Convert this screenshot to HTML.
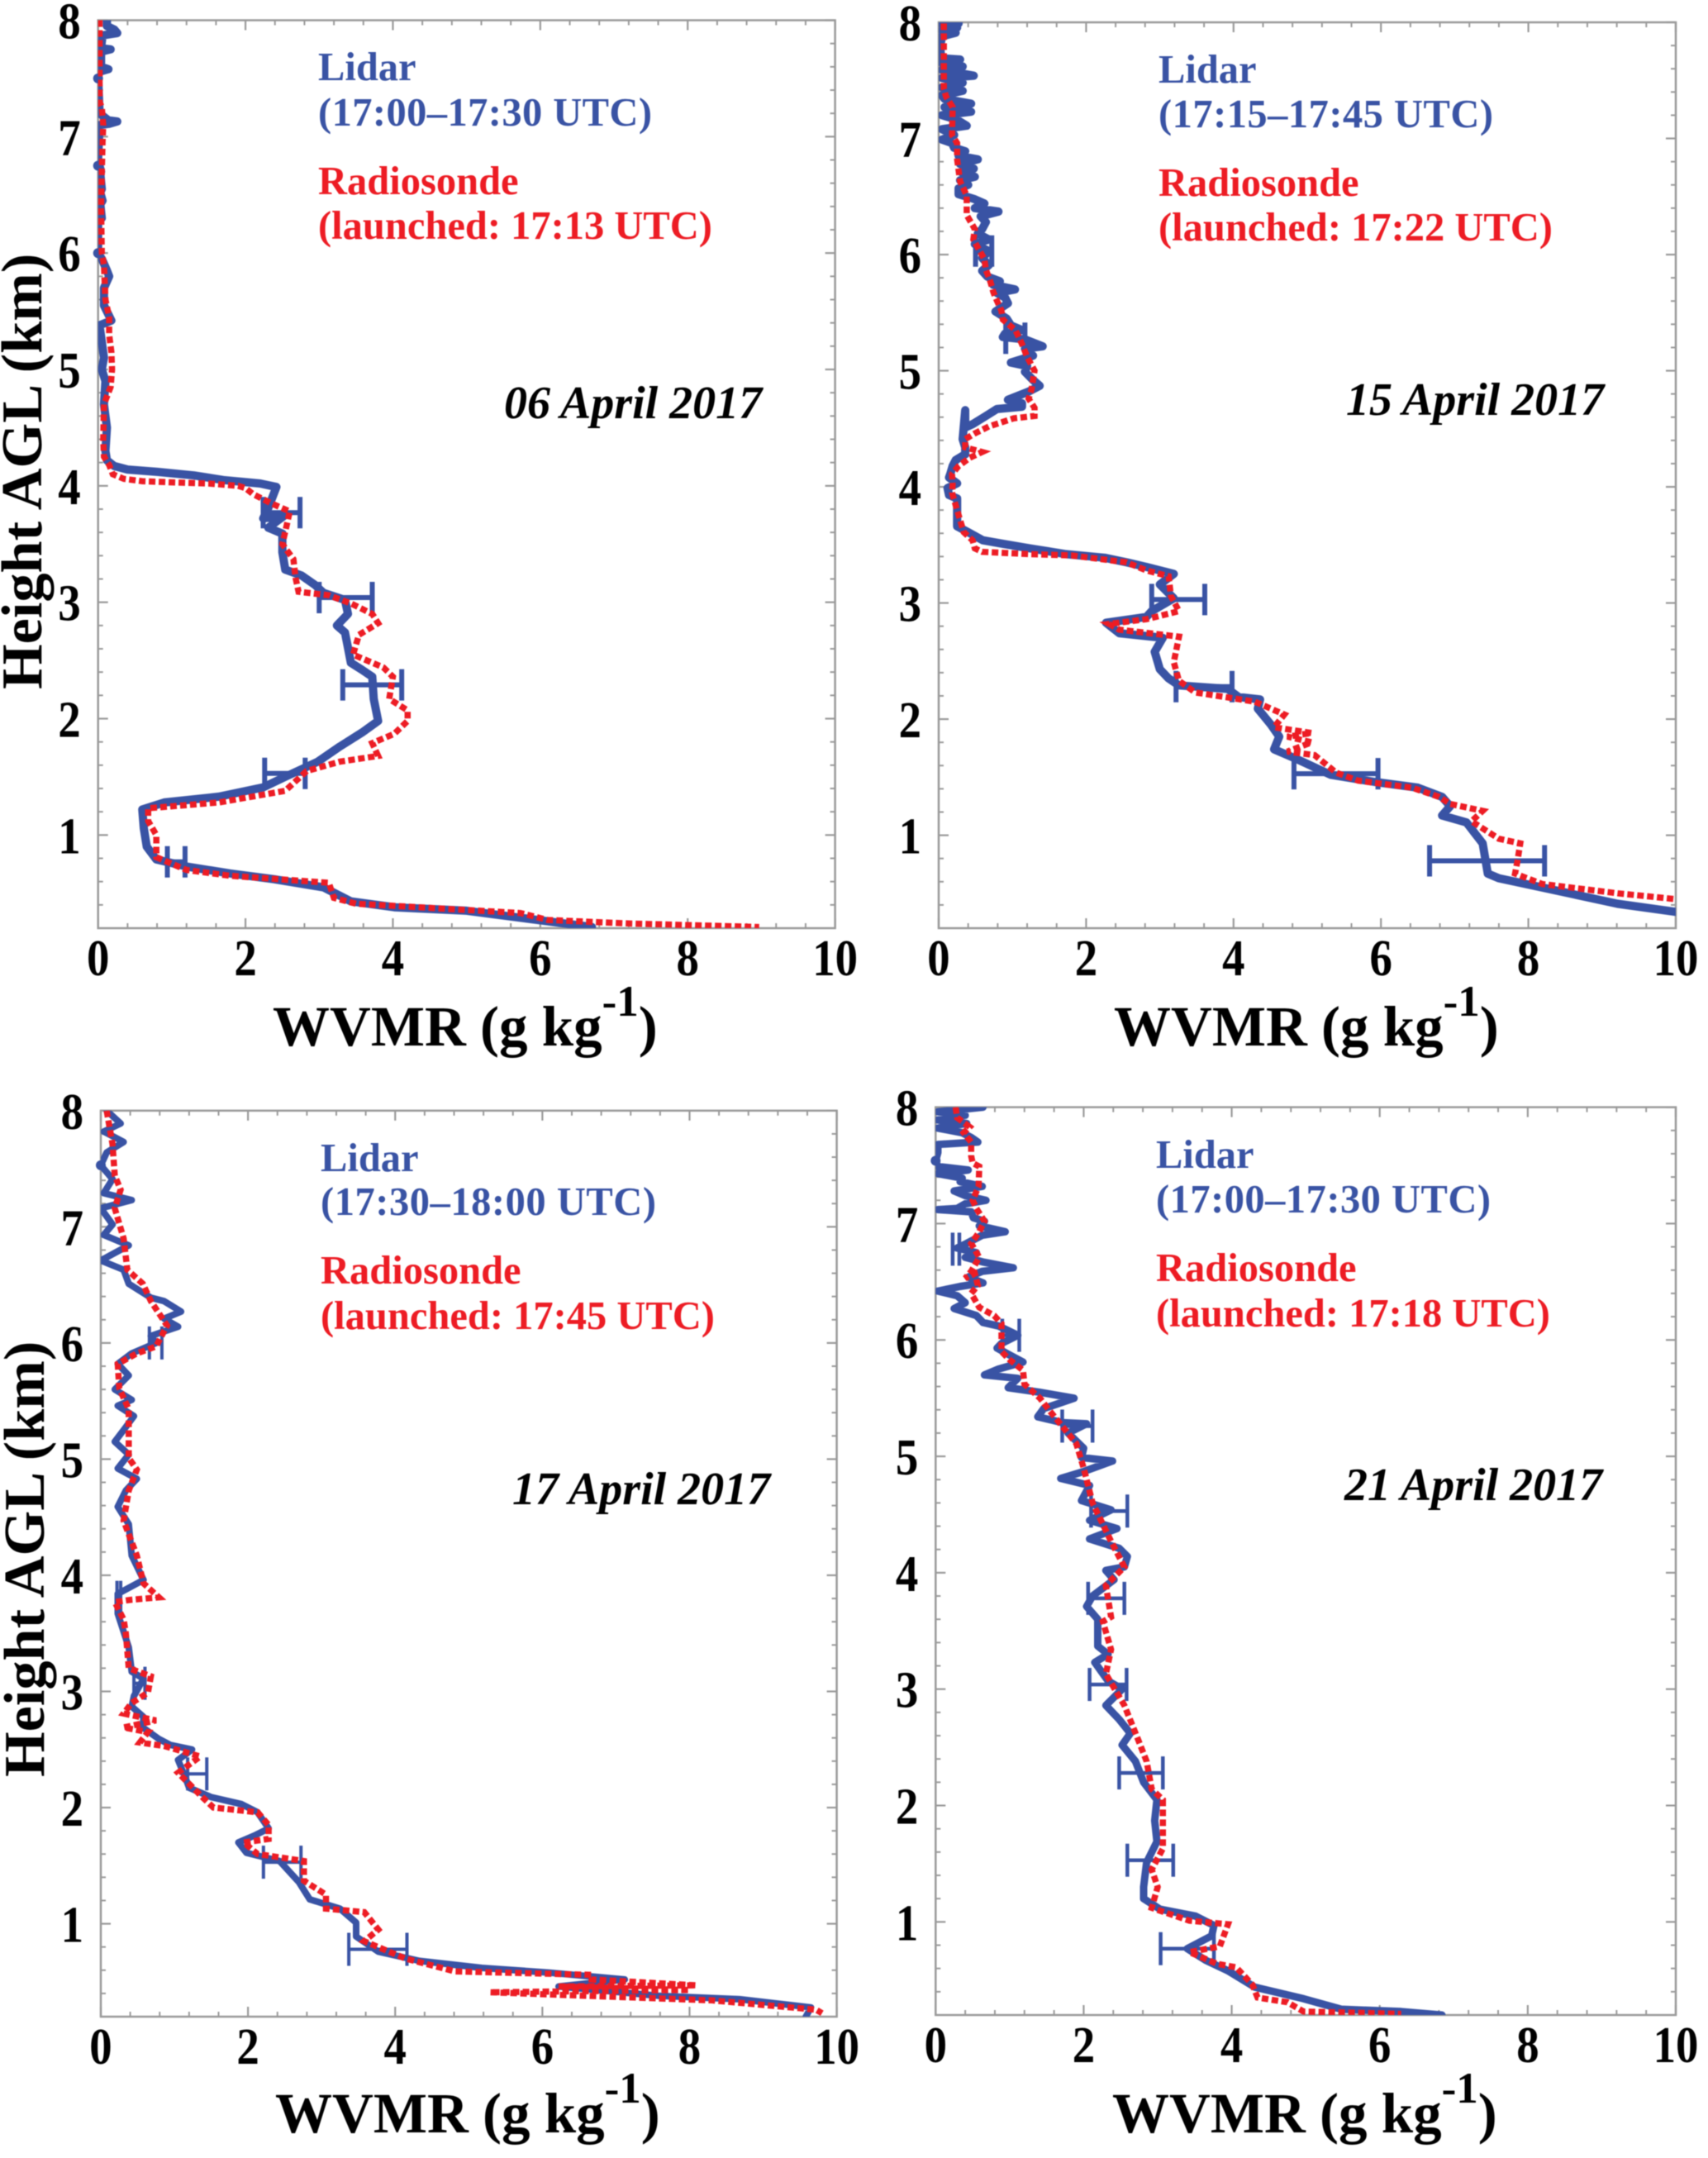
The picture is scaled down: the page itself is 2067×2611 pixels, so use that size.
<!DOCTYPE html>
<html lang="en">
<head>
<meta charset="utf-8">
<title>WVMR profiles: Lidar vs Radiosonde</title>
<style>
html,body{margin:0;padding:0;background:#fff;}
#figure{display:block;width:2067px;height:2611px;filter:blur(0.6px);}
text{font-family:"Liberation Serif",serif;font-weight:bold;}
.lidar-text{fill:#3953a4;font-size:48.5px;}
.sonde-text{fill:#ed1c24;font-size:48.5px;}
.date-text{fill:#000;font-size:56px;font-style:italic;}
.axis-title{fill:#000;font-size:69px;}
.y-title{fill:#000;font-size:70.3px;}
.tick-label{fill:#000;font-size:63px;}
</style>
</head>
<body>
<svg id="figure" xmlns="http://www.w3.org/2000/svg" width="2067" height="2611" viewBox="0 0 2067 2611">
  <rect width="2067" height="2611" fill="#fff"/>

  <g id="panel-apr06"></g>
  <g id="panel-apr15"></g>
  <g id="panel-apr17"></g>
  <g id="panel-apr21"></g>

  <g>
    <text class="lidar-text" x="385" y="97">Lidar</text>
    <text class="lidar-text" x="385" y="152" textLength="404">(17:00–17:30 UTC)</text>
    <text class="sonde-text" x="385" y="235">Radiosonde</text>
    <text class="sonde-text" x="385" y="289">(launched: 17:13 UTC)</text>
    <text class="date-text" x="610" y="506">06 April 2017</text>
    <text class="axis-title" x="330" y="1265">WVMR (g kg<tspan font-size="53" dy="-36">-1</tspan><tspan dy="36">)</tspan></text>
    <text class="y-title" transform="translate(50,834) rotate(-90)" x="0" y="0">Height AGL (km)</text>
  </g>

  <g>
    <text class="lidar-text" x="1402" y="100">Lidar</text>
    <text class="lidar-text" x="1402" y="154" textLength="405">(17:15–17:45 UTC)</text>
    <text class="sonde-text" x="1402" y="237">Radiosonde</text>
    <text class="sonde-text" x="1402" y="291">(launched: 17:22 UTC)</text>
    <text class="date-text" x="1629" y="502">15 April 2017</text>
    <text class="axis-title" x="1348" y="1265">WVMR (g kg<tspan font-size="53" dy="-36">-1</tspan><tspan dy="36">)</tspan></text>
  </g>

  <g>
    <text class="lidar-text" x="388" y="1417">Lidar</text>
    <text class="lidar-text" x="388" y="1470" textLength="406">(17:30–18:00 UTC)</text>
    <text class="sonde-text" x="388" y="1553">Radiosonde</text>
    <text class="sonde-text" x="388" y="1608">(launched: 17:45 UTC)</text>
    <text class="date-text" x="620" y="1820">17 April 2017</text>
    <text class="axis-title" x="333" y="2580">WVMR (g kg<tspan font-size="53" dy="-36">-1</tspan><tspan dy="36">)</tspan></text>
    <text class="y-title" transform="translate(53,2150) rotate(-90)" x="0" y="0">Height AGL (km)</text>
  </g>

  <g>
    <text class="lidar-text" x="1399" y="1413">Lidar</text>
    <text class="lidar-text" x="1399" y="1467" textLength="405">(17:00–17:30 UTC)</text>
    <text class="sonde-text" x="1399" y="1550">Radiosonde</text>
    <text class="sonde-text" x="1399" y="1605">(launched: 17:18 UTC)</text>
    <text class="date-text" x="1627" y="1815">21 April 2017</text>
    <text class="axis-title" x="1346" y="2580">WVMR (g kg<tspan font-size="53" dy="-36">-1</tspan><tspan dy="36">)</tspan></text>
  </g>
</svg>

<script>
// Axis values
const xTickLabels = [0, 2, 4, 6, 8, 10];
const yTickLabels = [1, 2, 3, 4, 5, 6, 7, 8];
const xMinorTicks = [0.4, 0.8, 1.2, 1.6, 2.4, 2.8, 3.2, 3.6, 4.4, 4.8, 5.2, 5.6, 6.4, 6.8, 7.2, 7.6, 8.4, 8.8, 9.2, 9.6];
const yMinorTicks = [0.4, 0.6, 0.8, 1.2, 1.4, 1.6, 1.8, 2.2, 2.4, 2.6, 2.8, 3.2, 3.4, 3.6, 3.8, 4.2, 4.4, 4.6, 4.8, 5.2, 5.4, 5.6, 5.8, 6.2, 6.4, 6.6, 6.8, 7.2, 7.4, 7.6, 7.8];
const xDomain = [0, 10];
const yDomain = [0.2, 8];

// 06 April 2017
const apr06LidarHeights = [8.0,7.95,7.92,7.89,7.87,7.76,7.75,7.73,7.6,7.58,7.56,7.53,7.2,7.14,7.13,7.11,7.1,6.8,6.7,6.68,6.55,6.52,6.45,6.42,6.3,6.27,6.0,5.95,5.85,5.8,5.7,5.55,5.42,5.38,5.1,5.0,4.9,4.7,4.5,4.3,4.22,4.17,4.14,4.12,4.09,4.05,4.02,3.99,3.81,3.72,3.75,3.64,3.59,3.43,3.28,3.23,3.15,3.08,3.02,2.9,2.8,2.74,2.61,2.48,2.42,2.36,2.17,1.98,1.88,1.76,1.63,1.5,1.41,1.33,1.28,1.22,1.06,0.9,0.79,0.73,0.67,0.62,0.55,0.43,0.38,0.35,0.27,0.21];
const apr06LidarWvmr = [0.12,0.12,0.22,0.26,0.06,0.04,0.17,0.04,0.04,0.14,0.03,0,0.02,0.14,0.26,0.15,0.02,0,0.04,0.03,0.05,0.03,0.06,0.03,0.05,0,0,0.05,0.12,0.15,0.08,0.08,0.18,0.02,0.08,0.05,0.10,0.08,0.12,0.10,0.12,0.22,0.4,0.8,1.3,1.7,2.2,2.42,2.31,2.24,2.54,2.31,2.5,2.5,2.54,2.76,2.94,3.06,3.35,3.39,3.24,3.35,3.39,3.43,3.58,3.72,3.74,3.8,3.58,3.28,2.98,2.54,2.24,1.64,0.9,0.6,0.62,0.66,0.79,1.2,1.79,2.39,3.06,3.43,4.02,5,5.96,6.7];
const apr06SondeHeights = [8.0,7.3,7.25,7.1,6.95,6.7,6.4,6.0,5.9,5.6,5.45,5.3,5.15,5.0,4.85,4.7,4.4,4.25,4.18,4.1,4.06,4.04,4.03,4.02,4.0,3.98,3.93,3.85,3.78,3.69,3.5,3.37,3.21,3.09,3.06,2.99,2.9,2.82,2.72,2.55,2.44,2.36,2.17,2.07,1.98,1.87,1.79,1.68,1.63,1.55,1.38,1.28,1.23,1.12,1.0,0.81,0.7,0.65,0.59,0.46,0.41,0.37,0.33,0.27,0.24,0.21];
const apr06SondeWvmr = [0.02,0.02,0.05,0.07,0.06,0.05,0.04,0.05,0.08,0.10,0.15,0.15,0.18,0.19,0.17,0.08,0.07,0.08,0.15,0.2,0.35,0.6,1.0,1.5,1.9,2.0,2.1,2.35,2.6,2.57,2.5,2.65,2.68,2.72,3.13,3.43,3.72,3.8,3.54,3.46,3.87,4.0,3.95,4.2,4.2,4.02,3.72,3.8,3.28,2.83,2.54,1.64,0.68,0.68,0.79,0.79,1.2,1.79,3.13,3.2,3.5,4.62,5.73,6.1,7.22,8.97];
const apr06ErrorHeights = [3.77,3.04,2.29,1.53,0.77];
const apr06ErrorLow = [2.24,3.0,3.32,2.26,0.94];
const apr06ErrorHigh = [2.74,3.72,4.12,2.81,1.18];
const apr06DotHeights = [7.5,6.75,6.0];
const apr06DotWvmr = [0,0,0];

// 15 April 2017
const apr15LidarHeights = [7.99,7.98,7.955,7.93,7.91,7.88,7.81,7.74,7.69,7.68,7.65,7.62,7.59,7.54,7.52,7.48,7.44,7.41,7.37,7.34,7.30,7.27,7.23,7.20,7.16,7.11,7.08,7.03,6.99,6.96,6.92,6.89,6.85,6.82,6.78,6.74,6.71,6.67,6.64,6.60,6.57,6.52,6.48,6.44,6.40,6.37,6.33,6.28,6.22,6.18,6.13,6.09,6.03,5.97,5.91,5.86,5.81,5.77,5.74,5.70,5.67,5.63,5.58,5.51,5.45,5.39,5.35,5.32,5.29,5.27,5.21,5.19,5.13,5.07,5.04,4.99,4.92,4.87,4.82,4.75,4.72,4.69,4.67,4.61,4.54,4.51,4.66,4.41,4.34,4.28,4.23,4.18,4.11,4.08,4.03,3.99,3.93,3.90,3.66,3.61,3.54,3.51,3.47,3.42,3.39,3.35,3.31,3.25,3.16,3.04,2.93,2.88,2.83,2.74,2.7,2.58,2.43,2.35,2.29,2.26,2.19,2.17,2.09,1.95,1.85,1.74,1.65,1.52,1.46,1.41,1.33,1.25,1.17,1.11,0.93,0.67,0.63,0.55,0.41,0.34];
const apr15LidarWvmr = [0.27,0.045,0.25,0.045,0.23,0.045,0.026,0.026,0.045,0.29,0.045,0.325,0.045,0.475,0.045,0.325,0.045,0.325,0.045,0.08,0.44,0.08,0.44,0.045,0.25,0.38,0.045,0.21,0.045,0.18,0.21,0.36,0.27,0.53,0.29,0.475,0.306,0.49,0.29,0.40,0.27,0.27,0.475,0.62,0.49,0.81,0.57,0.64,0.59,0.53,0.68,0.49,0.68,0.59,0.68,0.59,0.66,0.83,0.74,1.035,0.79,0.90,0.94,0.77,0.92,0.98,1.13,0.90,0.87,1.17,1.41,1.17,1.28,0.98,1.2,1.17,1.28,1.37,1.22,0.94,1.13,1.13,0.79,0.64,0.46,0.36,0.36,0.325,0.36,0.36,0.23,0.19,0.157,0.14,0.25,0.12,0.14,0.25,0.25,0.40,0.6,0.87,1.24,1.73,2.25,2.55,2.82,3.19,3.0,3.19,2.89,2.82,2.27,2.45,3.04,2.93,3.0,3.12,3.26,3.92,4.07,4.36,4.33,4.51,4.62,4.55,4.88,5.32,5.91,6.5,6.83,6.94,6.83,7.16,7.38,7.45,7.6,8.19,9.21,10];
const apr15SondeHeights = [7.99,7.81,7.43,7.36,7.27,7.03,6.96,6.82,6.63,6.51,6.34,6.22,6.13,5.96,5.87,5.77,5.68,5.63,5.52,5.44,5.35,5.23,5.12,5.0,4.92,4.84,4.76,4.68,4.61,4.59,4.52,4.46,4.41,4.34,4.3,4.25,4.18,4.11,4.02,3.95,3.8,3.61,3.54,3.47,3.44,3.42,3.41,3.35,3.28,3.23,3.06,2.93,2.86,2.82,2.77,2.71,2.49,2.33,2.23,2.18,2.15,2.04,1.93,1.88,1.85,1.8,1.72,1.69,1.54,1.47,1.41,1.33,1.27,1.21,1.12,0.97,0.93,0.77,0.67,0.58,0.5,0.45];
const apr15SondeWvmr = [0.07,0.07,0.07,0.1,0.19,0.18,0.25,0.25,0.29,0.38,0.38,0.49,0.47,0.62,0.64,0.7,0.74,0.77,0.85,0.87,1.04,1.13,1.2,1.3,1.28,1.26,1.22,1.3,1.3,1.02,0.68,0.49,0.36,0.36,0.59,0.42,0.27,0.18,0.19,0.18,0.25,0.34,0.46,0.49,0.59,1.24,1.8,2.55,2.82,3.12,3.15,3.26,2.82,2.31,2.45,3.26,3.19,3.26,3.48,3.99,4.29,4.69,4.55,5.06,4.73,5.06,4.73,5.1,5.39,5.69,6.42,6.79,6.94,7.38,7.23,7.6,7.89,7.85,7.82,8.19,9.21,10];
const apr15ErrorHeights = [6.03,5.28,3.03,2.28,1.53,0.78];
const apr15ErrorLow = [0.5,0.91,2.89,3.22,4.82,6.66];
const apr15ErrorHigh = [0.72,1.17,3.61,3.98,5.96,8.22];
const apr15DotHeights = [];
const apr15DotWvmr = [];

// 17 April 2017
const apr17LidarHeights = [8,7.89,7.82,7.73,7.64,7.53,7.41,7.29,7.23,7.16,7.02,6.93,6.84,6.71,6.63,6.51,6.39,6.36,6.27,6.21,6.14,6.06,6,5.91,5.82,5.72,5.6,5.51,5.46,5.37,5.25,5.15,5.04,4.92,4.83,4.73,4.59,4.44,4.17,3.96,3.84,3.67,3.38,3.17,3.11,2.96,2.87,2.78,2.69,2.59,2.54,2.5,2.41,2.24,2.17,2.09,2.03,1.96,1.82,1.76,1.7,1.61,1.54,1.36,1.21,1.13,1.01,0.89,0.76,0.68,0.62,0.58,0.52,0.46,0.38,0.35,0.28,0.2];
const apr17LidarWvmr = [0.08,0.27,0.04,0.31,0.08,0,0.16,0.04,0.42,0,0.16,0.04,0.38,0,0.31,0.38,0.68,0.86,1.09,0.86,1.05,0.68,0.75,0.42,0.23,0.38,0.19,0.42,0.23,0.45,0.31,0.19,0.38,0.23,0.49,0.34,0.23,0.38,0.42,0.58,0.23,0.23,0.38,0.42,0.58,0.45,0.42,0.58,0.57,0.79,0.94,1.24,1.05,1.16,1.2,1.5,1.91,2.13,2.28,2.09,1.87,1.98,2.43,2.69,2.84,3.25,3.47,3.47,3.77,4.33,5.18,6.08,7.12,6.22,7.57,8.68,9.65,9.58];
const apr17SondeHeights = [8,7.71,7.44,7.32,7.16,6.9,6.63,6.51,6.36,6.15,5.97,5.91,5.82,5.61,5.43,5.01,4.91,4.73,4.47,4.17,3.93,3.81,3.79,3.77,3.62,3.5,3.2,3.13,2.99,2.9,2.81,2.75,2.69,2.65,2.56,2.53,2.44,2.3,2.09,2,1.96,1.85,1.73,1.7,1.6,1.54,1.37,1.25,1.13,1.1,0.95,0.85,0.7,0.59,0.56,0.52,0.47,0.46,0.43,0.41,0.34,0.26,0.23];
const apr17SondeWvmr = [0.08,0.16,0.19,0.27,0.19,0.31,0.36,0.57,0.68,0.9,0.75,0.49,0.23,0.25,0.38,0.38,0.49,0.38,0.31,0.49,0.58,0.79,0.42,0.19,0.31,0.34,0.38,0.68,0.64,0.42,0.31,0.75,0.31,0.64,0.53,0.86,1.35,1.05,1.38,1.53,2.13,2.28,2.28,1.94,2.13,2.76,2.76,3.06,3.06,3.58,3.77,3.58,4.14,4.81,6.67,6.67,8.09,6.22,8.0,5.29,8.31,9.72,9.8];
const apr17ErrorHeights = [6.0,3.81,3.07,2.29,1.53,0.78];
const apr17ErrorLow = [0.66,0.22,0.45,1.18,2.21,3.37];
const apr17ErrorHigh = [0.83,0.27,0.6,1.44,2.72,4.16];
const apr17DotHeights = [7.53];
const apr17DotWvmr = [0];

// 21 April 2017
const apr21LidarHeights = [8.0,7.96,7.93,7.89,7.86,7.82,7.78,7.74,7.70,7.68,7.61,7.54,7.49,7.46,7.43,7.39,7.36,7.32,7.28,7.24,7.2,7.17,7.13,7.12,7.1,7.05,7.02,6.98,6.93,6.9,6.83,6.79,6.75,6.71,6.67,6.62,6.59,6.54,6.49,6.46,6.42,6.38,6.32,6.27,6.21,6.15,6.12,6.04,5.97,5.93,5.87,5.81,5.75,5.7,5.67,5.59,5.55,5.5,5.41,5.34,5.29,5.28,5.2,5.07,4.99,4.96,4.87,4.81,4.75,4.62,4.54,4.45,4.38,4.29,4.21,4.14,4.05,4.02,3.94,3.8,3.71,3.6,3.49,3.37,3.3,3.23,3.07,3,2.86,2.74,2.62,2.52,2.38,2.2,2.05,1.87,1.69,1.51,1.3,1.2,1.11,1.05,0.97,0.88,0.77,0.67,0.58,0.44,0.34,0.25,0.23,0.2];
const apr21LidarWvmr = [0.64,0.03,0.40,0.03,0.42,0.03,0.36,0.48,0.57,0.03,0.03,0,0.03,0.44,0.03,0.36,0.33,0.63,0.25,0.40,0.68,0.40,0.29,0.03,0.48,0.51,0.66,0.59,0.94,0.63,0.42,0.29,0.55,0.40,0.64,1.05,0.63,0.44,0.64,0.33,0.03,0.29,0.40,0.25,0.55,0.64,0.85,1.11,0.89,0.83,1.0,1.18,0.85,0.66,1.11,0.98,1.41,1.87,1.46,1.38,1.71,2.04,1.79,2,1.97,2.39,2,1.69,2.08,1.97,2.37,2.08,2.45,2.08,2.48,2.59,2.55,2.3,2.41,2.12,2.04,2.19,2.19,2.19,2.33,2.15,2.33,2.52,2.3,2.48,2.63,2.52,2.7,2.81,2.99,2.96,2.99,2.85,2.81,2.81,3.03,3.51,3.76,3.73,3.4,3.65,3.95,4.31,4.97,5.48,6.29,6.84];
const apr21SondeHeights = [8.0,7.91,7.83,7.78,7.7,7.58,7.52,7.49,7.32,7.2,7.13,7.02,6.92,6.83,6.71,6.59,6.53,6.57,6.47,6.4,6.28,6.21,6.14,5.9,5.83,5.74,5.62,5.5,5.4,5.11,4.9,4.6,4.27,4.05,3.89,3.62,3.58,3.34,3.13,2.86,2.56,2.38,2.14,2.05,1.63,1.45,1.3,1.12,1.01,0.98,0.79,0.74,0.64,0.61,0.46,0.35,0.31,0.23,0.21];
const apr21SondeWvmr = [0.27,0.29,0.46,0.38,0.48,0.48,0.5,0.59,0.58,0.5,0.55,0.66,0.58,0.48,0.59,0.48,0.4,0.53,0.57,0.48,0.59,0.79,0.89,0.89,1.0,1.18,1.2,1.41,1.53,1.9,2,2.12,2.37,2.55,2.3,2.37,2.26,2.37,2.3,2.55,2.74,2.85,2.92,3.07,3.07,2.92,3,2.92,3.43,3.95,3.84,3.43,3.8,4.06,4.28,4.35,4.75,4.97,6.29];
const apr21ErrorHeights = [6.78,6.04,5.26,4.53,3.78,3.04,2.28,1.53,0.77];
const apr21ErrorLow = [0.23,0.9,1.71,2.1,2.06,2.08,2.48,2.59,3.04];
const apr21ErrorHigh = [0.32,1.13,2.12,2.59,2.55,2.58,3.07,3.21,3.76];
const apr21DotHeights = [7.54];
const apr21DotWvmr = [0];

// Layout of each panel (pixel geometry only, no data)
const panelLayouts = [
  {group: 'panel-apr06', l: 118.7, r: 1010.6, t: 24.5, b: 1123, lidarWidth: 10, errWidth: 6, capHalf: 19},
  {group: 'panel-apr15', l: 1136, r: 2028, t: 27, b: 1123, lidarWidth: 10, errWidth: 6, capHalf: 19},
  {group: 'panel-apr17', l: 122, r: 1012.6, t: 1343.8, b: 2440, lidarWidth: 8, errWidth: 4, capHalf: 20},
  {group: 'panel-apr21', l: 1132.3, r: 2028, t: 1339.6, b: 2438, lidarWidth: 9, errWidth: 4.5, capHalf: 20}
];
const panelSeries = [
  {lh: apr06LidarHeights, lv: apr06LidarWvmr, sh: apr06SondeHeights, sv: apr06SondeWvmr, eh: apr06ErrorHeights, el: apr06ErrorLow, eu: apr06ErrorHigh, dh: apr06DotHeights, dv: apr06DotWvmr},
  {lh: apr15LidarHeights, lv: apr15LidarWvmr, sh: apr15SondeHeights, sv: apr15SondeWvmr, eh: apr15ErrorHeights, el: apr15ErrorLow, eu: apr15ErrorHigh, dh: apr15DotHeights, dv: apr15DotWvmr},
  {lh: apr17LidarHeights, lv: apr17LidarWvmr, sh: apr17SondeHeights, sv: apr17SondeWvmr, eh: apr17ErrorHeights, el: apr17ErrorLow, eu: apr17ErrorHigh, dh: apr17DotHeights, dv: apr17DotWvmr},
  {lh: apr21LidarHeights, lv: apr21LidarWvmr, sh: apr21SondeHeights, sv: apr21SondeWvmr, eh: apr21ErrorHeights, el: apr21ErrorLow, eu: apr21ErrorHigh, dh: apr21DotHeights, dv: apr21DotWvmr}
];

const SVG_NS = 'http://www.w3.org/2000/svg';
const AXIS_COLOR = '#9a9a9a';
const LIDAR_COLOR = '#3953a4';
const SONDE_COLOR = '#ed1c24';
const DIGIT_SQUEEZE = 0.87;

function makeXScale(p) {
  return function (v) { return p.l + (v - xDomain[0]) / (xDomain[1] - xDomain[0]) * (p.r - p.l); };
}
function makeYScale(p) {
  return function (km) { return p.b - (km - yDomain[0]) / (yDomain[1] - yDomain[0]) * (p.b - p.t); };
}
function seg(x1, y1, x2, y2, color, width) {
  const s = document.createElementNS(SVG_NS, 'line');
  s.setAttribute('x1', x1.toFixed(2));
  s.setAttribute('y1', y1.toFixed(2));
  s.setAttribute('x2', x2.toFixed(2));
  s.setAttribute('y2', y2.toFixed(2));
  s.setAttribute('stroke', color);
  s.setAttribute('stroke-width', width);
  return s;
}
function pointsOf(heights, values, xs, ys) {
  const out = [];
  for (let i = 0; i < heights.length; i++) {
    out.push(xs(values[i]).toFixed(1) + ',' + ys(heights[i]).toFixed(1));
  }
  return out.join(' ');
}

panelLayouts.forEach(function (p, idx) {
  const g = document.getElementById(p.group);
  const d = panelSeries[idx];
  const xs = makeXScale(p);
  const ys = makeYScale(p);

  const clip = document.createElementNS(SVG_NS, 'clipPath');
  clip.setAttribute('id', p.group + '-clip');
  const clipRect = document.createElementNS(SVG_NS, 'rect');
  clipRect.setAttribute('x', p.l);
  clipRect.setAttribute('y', p.t);
  clipRect.setAttribute('width', p.r - p.l);
  clipRect.setAttribute('height', p.b - p.t);
  clip.appendChild(clipRect);
  g.appendChild(clip);

  const frame = document.createElementNS(SVG_NS, 'rect');
  frame.setAttribute('x', p.l);
  frame.setAttribute('y', p.t);
  frame.setAttribute('width', p.r - p.l);
  frame.setAttribute('height', p.b - p.t);
  frame.setAttribute('fill', 'none');
  frame.setAttribute('stroke', AXIS_COLOR);
  frame.setAttribute('stroke-width', '2.5');
  
  
  g.appendChild(frame);

  xMinorTicks.forEach(function (v) {
    const bottom = seg(xs(v), p.b, xs(v), p.b - 6, AXIS_COLOR, 2);
    
    
    g.appendChild(bottom);
    const top = seg(xs(v), p.t, xs(v), p.t + 6, AXIS_COLOR, 2);
    
    
    g.appendChild(top);
  });
  yMinorTicks.forEach(function (v) {
    const left = seg(p.l, ys(v), p.l + 6, ys(v), AXIS_COLOR, 2);
    
    
    g.appendChild(left);
    const right = seg(p.r, ys(v), p.r - 6, ys(v), AXIS_COLOR, 2);
    
    
    g.appendChild(right);
  });

  xTickLabels.forEach(function (v) {
    const bottom = seg(xs(v), p.b, xs(v), p.b - 12, AXIS_COLOR, 2.2);
    
    
    g.appendChild(bottom);
    const top = seg(xs(v), p.t, xs(v), p.t + 12, AXIS_COLOR, 2.2);
    
    
    g.appendChild(top);
    const label = document.createElementNS(SVG_NS, 'text');
    label.setAttribute('class', 'tick-label');
    label.setAttribute('transform', 'translate(' + xs(v).toFixed(1) + ',' + (p.b + 57).toFixed(1) + ') scale(' + DIGIT_SQUEEZE + ',1)');
    label.setAttribute('text-anchor', 'middle');
    
    
    label.textContent = String(v);
    g.appendChild(label);
  });
  yTickLabels.forEach(function (v) {
    const left = seg(p.l, ys(v), p.l + 12, ys(v), AXIS_COLOR, 2.2);
    
    
    g.appendChild(left);
    const right = seg(p.r, ys(v), p.r - 12, ys(v), AXIS_COLOR, 2.2);
    
    
    g.appendChild(right);
    const label = document.createElementNS(SVG_NS, 'text');
    label.setAttribute('class', 'tick-label');
    label.setAttribute('transform', 'translate(' + (p.l - 21).toFixed(1) + ',' + (ys(v) + 22).toFixed(1) + ') scale(' + DIGIT_SQUEEZE + ',1)');
    label.setAttribute('text-anchor', 'end');
    
    
    label.textContent = String(v);
    g.appendChild(label);
  });

  d.eh.forEach(function (km, i) {
    const bar = seg(xs(d.el[i]), ys(km), xs(d.eu[i]), ys(km), LIDAR_COLOR, p.errWidth);
    
    
    g.appendChild(bar);
    const capLow = seg(xs(d.el[i]), ys(km) - p.capHalf, xs(d.el[i]), ys(km) + p.capHalf, LIDAR_COLOR, p.errWidth);
    
    
    g.appendChild(capLow);
    const capHigh = seg(xs(d.eu[i]), ys(km) - p.capHalf, xs(d.eu[i]), ys(km) + p.capHalf, LIDAR_COLOR, p.errWidth);
    
    
    g.appendChild(capHigh);
  });

  const lidar = document.createElementNS(SVG_NS, 'polyline');
  lidar.setAttribute('points', pointsOf(d.lh, d.lv, xs, ys));
  lidar.setAttribute('fill', 'none');
  lidar.setAttribute('stroke', LIDAR_COLOR);
  lidar.setAttribute('stroke-width', p.lidarWidth);
  lidar.setAttribute('stroke-linejoin', 'round');
  lidar.setAttribute('stroke-linecap', 'round');
  lidar.setAttribute('clip-path', 'url(#' + p.group + '-clip)');
  
  
  g.appendChild(lidar);

  d.dh.forEach(function (km, i) {
    const dot = document.createElementNS(SVG_NS, 'circle');
    dot.setAttribute('cx', xs(d.dv[i]).toFixed(1));
    dot.setAttribute('cy', ys(km).toFixed(1));
    dot.setAttribute('r', '6');
    dot.setAttribute('fill', LIDAR_COLOR);
    
    
    g.appendChild(dot);
  });

  const sonde = document.createElementNS(SVG_NS, 'polyline');
  sonde.setAttribute('points', pointsOf(d.sh, d.sv, xs, ys));
  sonde.setAttribute('fill', 'none');
  sonde.setAttribute('stroke', SONDE_COLOR);
  sonde.setAttribute('stroke-width', '7.5');
  sonde.setAttribute('stroke-dasharray', '8 4');
  sonde.setAttribute('clip-path', 'url(#' + p.group + '-clip)');
  
  
  g.appendChild(sonde);
});
</script>
</body>
</html>
